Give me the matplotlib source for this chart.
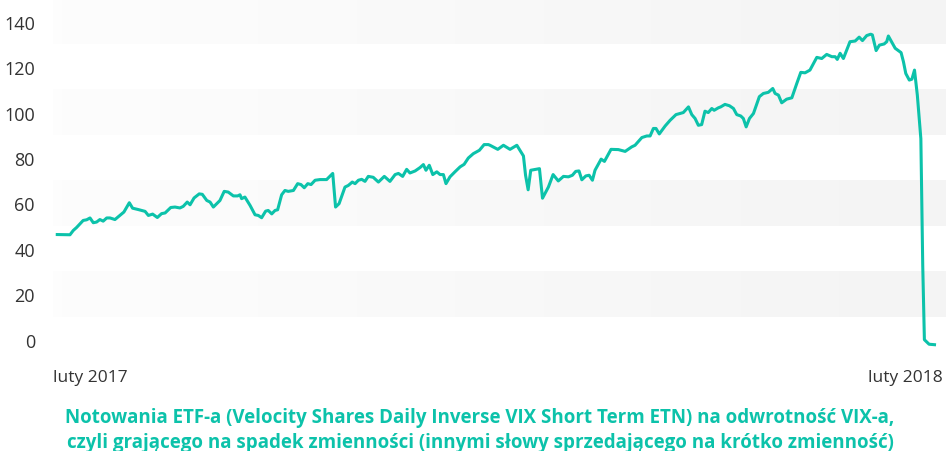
import numpy as np
import matplotlib.pyplot as plt
from matplotlib.colors import LinearSegmentedColormap

# dni od poczatku lutego 2017 i notowania ETF-a
dni = [0, 5.4, 6.8, 8.2, 11.0, 12.5, 13.9, 15.3, 16.7, 18.1, 19.5, 21.0, 22.4, 24.5, 26.6, 28.3,
       30.6, 32.0, 34.4, 37.3, 38.7, 40.5, 42.5, 44.3, 45.8, 48.2, 50.0, 52.1, 53.5, 55.2, 56.4,
       58.1, 60.3, 61.6, 63.5, 64.9, 66.3, 69.1, 70.9, 72.6, 74.8, 76.6, 77.6, 78.3, 79.7, 81.9,
       84.0, 85.4, 86.8, 88.5, 89.6, 91.1, 92.5, 93.6, 95.3, 96.7, 98.1, 100.3, 102.1, 103.5,
       104.9, 106.4, 107.8, 109.5, 111.6, 114.4, 117.0, 118.2, 119.7, 122.2, 123.6, 125.3, 126.5,
       127.9, 129.3, 130.7, 132.1, 134.2, 136.4, 138.9, 141.3, 143.5, 144.9, 146.7, 148.4, 149.8,
       152.0, 154.1, 155.5, 156.6, 158.0, 159.5, 161.2, 162.6, 164.0, 165.1, 166.8, 168.9, 171.1,
       172.8, 174.6, 176.7, 179.3, 181.3, 183.1, 183.8, 187.1, 189.5, 192.3, 195.2, 198.0, 198.9,
       200.0, 201.1, 204.8, 206.1, 208.6, 210.6, 212.8, 215.0, 217.1, 218.8, 220.2, 221.6, 222.8,
       224.5, 225.9, 227.3, 228.4, 231.0, 232.4, 235.2, 238.3, 241.2, 244.0, 245.4, 248.3, 250.4,
       251.8, 253.2, 254.3, 255.7, 258.2, 260.3, 262.8, 264.5, 265.9, 268.1, 269.5, 270.9, 272.3,
       273.7, 275.1, 276.5, 278.0, 279.0, 280.8, 281.8, 283.6, 285.5, 287.2, 288.6, 290.3, 291.4,
       292.6, 294.0, 295.7, 298.2, 299.9, 302.0, 303.9, 304.9, 306.3, 307.7, 309.8, 312.0, 314.1,
       315.8, 317.6, 319.7, 322.6, 324.7, 326.8, 329.0, 330.4, 331.3, 332.5, 333.9, 336.7, 338.9,
       340.6, 342.0, 343.8, 345.5, 346.2, 347.8, 349.2, 351.2, 352.3, 353.0, 355.9, 358.4, 359.4,
       360.4, 361.9, 363.0, 364.1, 365.3, 366.8, 367.6, 368.3, 370.3, 372.6]
cena = [46.3, 46.2, 48.1, 49.4, 52.5, 52.8, 53.6, 51.5, 51.8, 52.9, 52.2, 53.6, 53.6, 52.9, 54.7, 56.2,
        60.3, 57.9, 57.3, 56.5, 54.7, 55.3, 53.8, 55.5, 55.8, 58.2, 58.4, 58.0, 58.7, 60.6, 59.4,
        62.4, 64.2, 64.0, 61.3, 60.6, 58.4, 61.3, 65.3, 65.0, 63.3, 63.3, 63.8, 62.1, 62.8, 59.1,
        55.0, 54.7, 53.7, 56.6, 56.9, 55.4, 56.9, 57.2, 63.8, 65.7, 65.3, 65.7, 68.7, 68.3,
        66.9, 68.7, 68.3, 70.2, 70.5, 70.5, 73.2, 58.4, 59.9, 67.2, 67.9, 69.4, 68.7,
        70.2, 70.6, 69.7, 71.9, 71.5, 69.4, 71.9, 69.7, 72.7, 73.2, 71.9, 75.0, 73.4,
        74.3, 75.8, 77.1, 74.6, 76.8, 72.7, 73.9, 72.7, 72.7, 68.7, 71.7, 73.9, 76.1,
        77.2, 80.0, 81.9, 83.4, 85.9, 85.9, 85.6, 83.8, 85.6, 83.8, 85.6, 80.9, 72.4,
        66.0, 74.6, 75.3, 62.3, 67.2, 72.7, 69.9, 71.9, 71.7, 72.4, 74.1, 74.3, 70.4,
        72.1, 72.4, 70.2, 74.6, 79.5, 78.5, 83.8, 83.7, 82.9, 84.9, 85.6, 89.0, 89.7,
        89.7, 93.0, 93.0, 90.6, 94.1, 96.6, 99.1, 99.6, 100.0, 102.5, 99.1, 97.4, 94.4,
        94.7, 100.6, 100.0, 101.8, 101.0, 102.1, 102.5, 103.6, 103.0, 101.8, 99.1, 98.5, 97.4,
        93.7, 97.4, 99.6, 107.0, 108.4, 108.9, 110.6, 108.4, 107.7, 104.3, 105.9, 106.5, 112.8,
        117.7, 117.5, 118.7, 124.3, 123.8, 125.6, 124.6, 124.6, 123.4, 126.1, 123.8, 131.2,
        131.5, 133.2, 131.7, 133.9, 134.5, 134.2, 127.3, 129.7, 130.2, 131.2, 133.7, 128.3, 126.4,
        122.4, 117.2, 114.3, 114.7, 118.7, 107.7, 88.5, 32.6, 0.0, -2.0, -2.2]

y_ticks = [0, 20, 40, 60, 80, 100, 120, 140]
pasy = [(10, 30), (50, 70), (90, 110), (130, 150)]
etykieta_start = "luty 2017"
etykieta_koniec = "luty 2018"
tytul = ("Notowania ETF-a (Velocity Shares Daily Inverse VIX Short Term ETN) na odwrotność VIX-a,\n"
         "czyli grającego na spadek zmienności (innymi słowy sprzedającego na krótko zmienność)")

kolor = "#0cc2aa"
plt.rcParams['font.family'] = ['Open Sans', 'DejaVu Sans']

fig = plt.figure(figsize=(9.47, 4.52), dpi=100)
ax = fig.add_axes([0.056, 0.196, 0.942, 0.804])

xmin, xmax = -1.8, 377.1
grad = LinearSegmentedColormap.from_list("g", ["#fdfdfd", "#f4f4f4"])
for lo, hi in pasy:
    ax.imshow(np.linspace(0, 1, 100).reshape(1, -1), cmap=grad, aspect='auto',
              extent=[xmin, xmax, lo, hi], zorder=0)

ax.plot(dni, cena, color=kolor, lw=2.2, solid_joinstyle='round', zorder=3)

ax.set_xlim(xmin, xmax)
ax.set_ylim(-10, 150)
ax.set_yticks(y_ticks)
ax.set_yticklabels([str(t) for t in y_ticks], fontsize=13, color="#333333")
ax.tick_params(axis='y', length=0, pad=13)
ax.set_xticks([])
for s in ax.spines.values():
    s.set_visible(False)

fig.text(0.056, 0.164, etykieta_start, fontsize=12.5, color="#333333", ha='left', va='center')
fig.text(0.996, 0.164, etykieta_koniec, fontsize=12.5, color="#333333", ha='right', va='center')
fig.text(0.507, 0.047, tytul, fontsize=13.5, fontweight='bold', color=kolor,
         ha='center', va='center', linespacing=1.35)

fig.savefig("out.png", dpi=100)
